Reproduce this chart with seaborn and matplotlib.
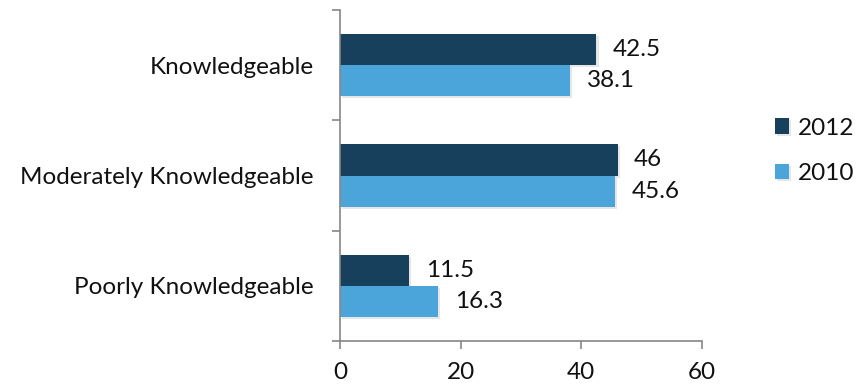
import matplotlib
matplotlib.use("Agg")
import matplotlib.pyplot as plt
import matplotlib.patheffects as pe
import seaborn as sns
import pandas as pd

categories = ["Knowledgeable", "Moderately Knowledgeable", "Poorly Knowledgeable"]
years = ["2012", "2010"]
values_2012 = [42.5, 46, 11.5]
values_2010 = [38.1, 45.6, 16.3]
x_ticks = [0, 20, 40, 60]

colors = {"2012": "#17405C", "2010": "#4BA5DA"}
axis_color = "#868686"
text_color = "#111111"
fs = 17.5

sns.set_theme(style="white")
plt.rcParams["font.family"] = ["Lato", "DejaVu Sans"]

df = pd.DataFrame({
    "category": categories * 2,
    "year": ["2012"] * 3 + ["2010"] * 3,
    "value": values_2012 + values_2010,
})

fig = plt.figure(figsize=(8.62, 3.87), dpi=100)
ax = fig.add_axes([0.3944, 0.1189, 0.42, 0.855])

sns.barplot(data=df, y="category", x="value", hue="year", order=categories,
            hue_order=years, palette=colors, orient="h", width=0.565,
            saturation=1, linewidth=0, ax=ax, legend=True)

for patch in ax.patches:
    patch.set_path_effects([pe.SimplePatchShadow(offset=(1.5, -1.5), shadow_rgbFace="#c8c8c8", alpha=0.45),
                            pe.Normal()])

for cont in ax.containers:
    ax.bar_label(cont, labels=[f"{v:g}" for v in cont.datavalues], padding=12,
                 fontsize=fs, color=text_color)

ax.set_xlim(0, 60)
ax.set_ylim(2.5, -0.5)
ax.set_xticks(x_ticks)
ax.set_xticklabels([str(t) for t in x_ticks], fontsize=fs)
ax.set_yticks(range(len(categories)))
ax.set_yticklabels(categories, fontsize=fs)
ax.set_yticks([-0.5, 0.5, 1.5, 2.5], minor=True)
ax.tick_params(axis="y", which="major", length=0, pad=19, colors=text_color)
ax.tick_params(axis="y", which="minor", length=6, width=1.2, color=axis_color, left=True)
ax.tick_params(axis="x", which="major", length=6, width=1.2, color=axis_color,
               bottom=True, pad=9, labelcolor=text_color)
ax.set_xlabel("")
ax.set_ylabel("")

for side in ["top", "right"]:
    ax.spines[side].set_visible(False)
for side in ["left", "bottom"]:
    ax.spines[side].set_color(axis_color)
    ax.spines[side].set_linewidth(1.2)

leg = ax.legend(loc="center left", bbox_to_anchor=(1.14, 0.575), frameon=False,
                fontsize=fs, handlelength=0.6, handleheight=0.6,
                handletextpad=0.35, labelspacing=1.0)
for t in leg.get_texts():
    t.set_color(text_color)

fig.savefig("out.png", dpi=100)
